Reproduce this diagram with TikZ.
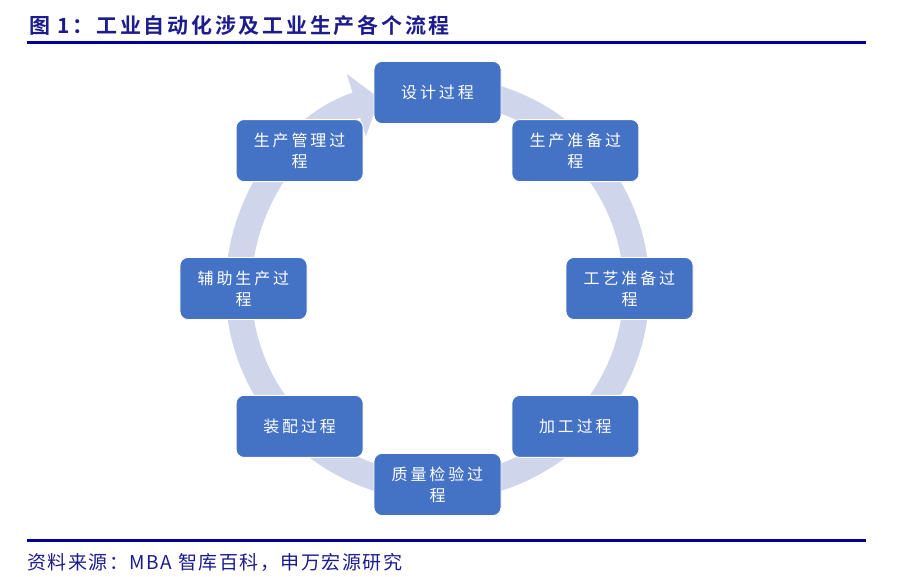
\documentclass[tikz,border=0pt]{standalone}
\usepackage{fontspec}
\setmainfont{Noto Sans CJK SC}
\newfontfamily\boxfont[LetterSpace=18]{Noto Sans CJK SC}
\newfontfamily\headfont[LetterSpace=13]{Noto Sans CJK SC Bold}
\newfontfamily\notefont[LetterSpace=8]{Noto Sans CJK SC}
\usepackage{xcolor}
\definecolor{flow-blue}{HTML}{4472C4}
\definecolor{flow-ring}{HTML}{CFD5EA}
\definecolor{flow-navy}{HTML}{000099}
\definecolor{flow-text}{HTML}{1C1C8E}
\usetikzlibrary{arrows.meta}
\tikzset{
  procbox/.style={rectangle, rounded corners=8pt, fill=flow-blue, draw=white,
    line width=0.8pt, minimum width=127pt, minimum height=62pt, text=white,
    align=center, font=\boxfont\fontsize{16}{21}\selectfont}
}

\begin{document}
\begin{tikzpicture}[x=1pt, y=1pt]

    % Page
    \useasboundingbox (0, 0) rectangle (898, 577);
    \coordinate (hub) at (437.5, 288.5);

    % Title and rules
    \node[anchor=west, inner sep=0pt, text=flow-text, font=\headfont\fontsize{21}{25}\selectfont] (title) at (29, 551) {图 1：工业自动化涉及工业生产各个流程};
    \fill[flow-navy] (27, 533.2) rectangle (866, 536.2);
    \fill[flow-navy] (27, 35.2) rectangle (866, 38.2);
    \node[anchor=west, inner sep=0pt, text=flow-text, font=\notefont\fontsize{19}{23}\selectfont] (source) at (27, 15) {资料来源：MBA 智库百科，申万宏源研究};

    % Ring
    \draw[flow-ring, line width=26pt, -{Triangle[width=64pt, length=24pt]}]
      ([shift={(85:199)}]hub) arc[start angle=85, end angle=-253, radius=199];

    % Steps
    \node[procbox] (design)    at ([shift={(90:196)}]hub)   {设计过程};
    \node[procbox] (prep)      at ([shift={(45:195)}]hub)   {生产准备过\\程};
    \node[procbox] (craft)     at ([shift={(0:192)}]hub)    {工艺准备过\\程};
    \node[procbox] (machining) at ([shift={(-45:195)}]hub)  {加工过程};
    \node[procbox] (inspect)   at ([shift={(-90:196)}]hub)  {质量检验过\\程};
    \node[procbox] (assembly)  at ([shift={(-135:195)}]hub) {装配过程};
    \node[procbox] (aux)       at ([shift={(180:194)}]hub)  {辅助生产过\\程};
    \node[procbox] (manage)    at ([shift={(135:195)}]hub)  {生产管理过\\程};

\end{tikzpicture}
\end{document}
